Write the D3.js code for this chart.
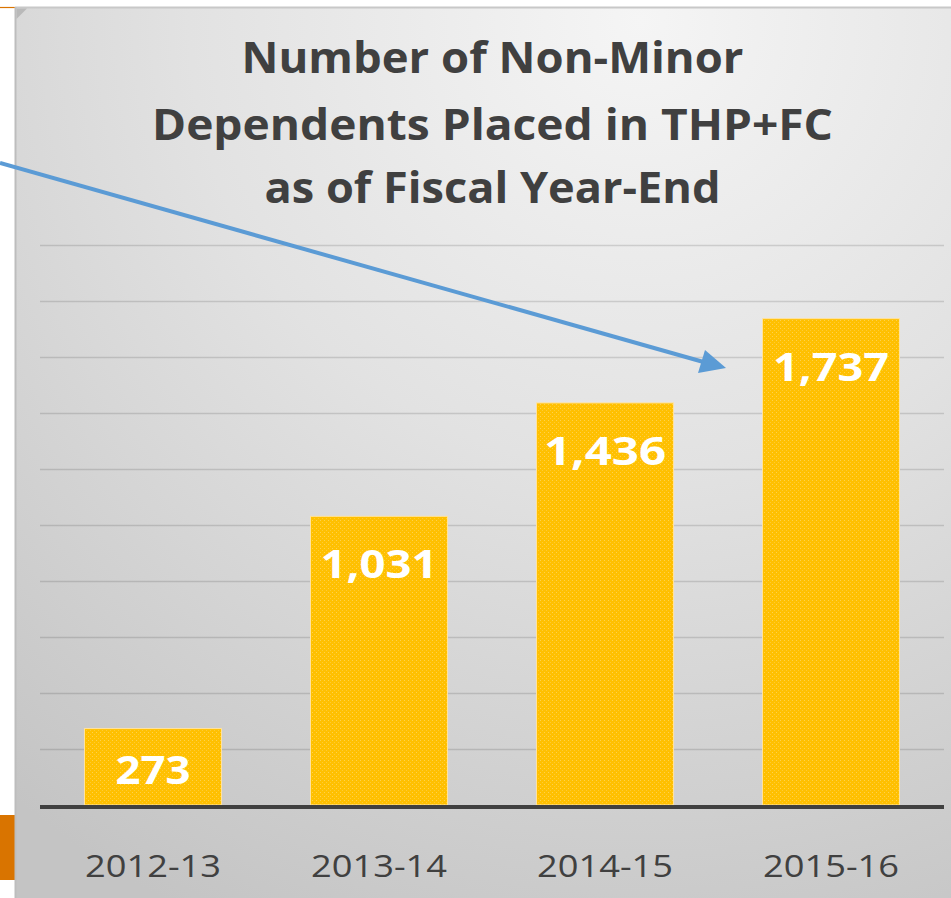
<!DOCTYPE html>
<html>
<head>
<meta charset="utf-8">
<script src="https://cdn.jsdelivr.net/npm/d3@7"></script>
<style>
  html, body { margin: 0; padding: 0; background: #ffffff; }
  svg { display: block; }
</style>
</head>
<body>
<svg id="chart" width="951" height="898"></svg>
<script>
// ---- data ----
const categories = ["2012-13", "2013-14", "2014-15", "2015-16"];
const values = [273, 1031, 1436, 1737];
const valueLabels = ["273", "1,031", "1,436", "1,737"];
const titleLines = ["Number of Non-Minor", "Dependents Placed in THP+FC", "as of Fiscal Year-End"];
const yTicks = [0, 200, 400, 600, 800, 1000, 1200, 1400, 1600, 1800, 2000];

// ---- setup ----
const svg = d3.select("#chart");
const W = 951, H = 898;
const defs = svg.append("defs");

const bg = defs.append("radialGradient").attr("id", "bg")
  .attr("gradientUnits", "userSpaceOnUse")
  .attr("cx", 640).attr("cy", 20).attr("r", 1000);
bg.append("stop").attr("offset", "0%").attr("stop-color", "#f5f5f5");
bg.append("stop").attr("offset", "45%").attr("stop-color", "#e2e2e2");
bg.append("stop").attr("offset", "100%").attr("stop-color", "#c4c4c4");

const pat = defs.append("pattern").attr("id", "barPat")
  .attr("patternUnits", "userSpaceOnUse").attr("width", 4).attr("height", 4);
pat.append("rect").attr("width", 4).attr("height", 4).attr("fill", "#FFC000");
pat.append("rect").attr("x", 0).attr("y", 0).attr("width", 1).attr("height", 1).attr("fill", "#FFD24D");
pat.append("rect").attr("x", 2).attr("y", 2).attr("width", 1).attr("height", 1).attr("fill", "#FFCB33");

// white page + decorations
svg.append("rect").attr("width", W).attr("height", H).attr("fill", "#ffffff");
svg.append("line").attr("x1", 0).attr("x2", 15).attr("y1", 7.5).attr("y2", 7.5)
  .attr("stroke", "#D97400").attr("stroke-width", 1.2);
svg.append("rect").attr("x", 0).attr("y", 815).attr("width", 15).attr("height", 65).attr("fill", "#D97400");

// panel
svg.append("rect").attr("x", 15).attr("y", 7).attr("width", W - 15).attr("height", H - 7)
  .attr("fill", "url(#bg)");
svg.append("line").attr("x1", 15).attr("x2", W).attr("y1", 7.5).attr("y2", 7.5)
  .attr("stroke", "#c8c8c8").attr("stroke-width", 2);
svg.append("line").attr("x1", 15.5).attr("x2", 15.5).attr("y1", 7).attr("y2", H)
  .attr("stroke", "#bdbdbd").attr("stroke-width", 2);
svg.append("path").attr("d", "M16.5,8.5 L27,8.5 L16.5,19 Z").attr("fill", "#b9b9b9");

// scales
const x = d3.scaleBand().domain(categories).range([40, 944]).paddingInner(0.394).paddingOuter(0.197);
const y = d3.scaleLinear().domain([0, 2000]).range([805, 245]);

// gridlines
const grid = svg.append("g").attr("transform", "translate(40,0)")
  .call(d3.axisLeft(y).tickValues(yTicks.slice(1)).tickSize(-904).tickFormat(""));
grid.select(".domain").remove();
grid.selectAll(".tick line").attr("stroke", "#000").attr("stroke-opacity", 0.13).attr("stroke-width", 1.5);

// bars
svg.append("g").selectAll("rect").data(values).join("rect")
  .attr("x", (d, i) => x(categories[i]))
  .attr("y", d => y(d))
  .attr("width", x.bandwidth())
  .attr("height", d => y(0) - y(d))
  .attr("fill", "url(#barPat)")
  .attr("stroke", "#FFE3A0").attr("stroke-width", 1);

// baseline
svg.append("line").attr("x1", 40).attr("x2", 944).attr("y1", y(0) + 2).attr("y2", y(0) + 2)
  .attr("stroke", "#404040").attr("stroke-width", 4);

// value labels
const labelW = [75, 117, 122, 116];
svg.append("g").selectAll("text").data(values).join("text")
  .attr("x", (d, i) => x(categories[i]) + x.bandwidth() / 2)
  .attr("y", d => Math.min(y(d) + 62, (y(d) + y(0)) / 2 + 17))
  .attr("text-anchor", "middle")
  .attr("font-family", "'Open Sans', sans-serif")
  .attr("font-weight", 700)
  .attr("font-size", 40)
  .attr("fill", "#ffffff")
  .attr("textLength", (d, i) => labelW[i])
  .attr("lengthAdjust", "spacingAndGlyphs")
  .text((d, i) => valueLabels[i]);

// category axis
const xAxis = svg.append("g").attr("transform", `translate(0,${y(0)})`)
  .call(d3.axisBottom(x).tickSize(0).tickPadding(50));
xAxis.select(".domain").remove();
xAxis.selectAll("text")
  .attr("font-family", "'Open Sans', sans-serif")
  .attr("font-size", 31)
  .attr("fill", "#404040")
  .attr("textLength", 136)
  .attr("lengthAdjust", "spacingAndGlyphs");

// title
const titleW = [502, 681, 456];
const titleY = [73, 140, 203];
svg.append("g").selectAll("text").data(titleLines).join("text")
  .attr("x", 492.5)
  .attr("y", (d, i) => titleY[i])
  .attr("text-anchor", "middle")
  .attr("font-family", "'Open Sans', sans-serif")
  .attr("font-weight", 700)
  .attr("font-size", 43)
  .attr("fill", "#404040")
  .attr("textLength", (d, i) => titleW[i])
  .attr("lengthAdjust", "spacingAndGlyphs")
  .text(d => d);

// annotation arrow
const arrowStart = [0, 163];
const arrowTip = [726, 368];
const arrowBaseA = [705, 350];
const arrowBaseB = [698, 373];
svg.append("line")
  .attr("x1", arrowStart[0]).attr("y1", arrowStart[1])
  .attr("x2", (arrowBaseA[0] + arrowBaseB[0]) / 2 + 2).attr("y2", (arrowBaseA[1] + arrowBaseB[1]) / 2 + 0.5)
  .attr("stroke", "#5B9BD5").attr("stroke-width", 4);
svg.append("path")
  .attr("d", `M${arrowTip}L${arrowBaseA}L${arrowBaseB}Z`)
  .attr("fill", "#5B9BD5");
</script>
</body>
</html>
